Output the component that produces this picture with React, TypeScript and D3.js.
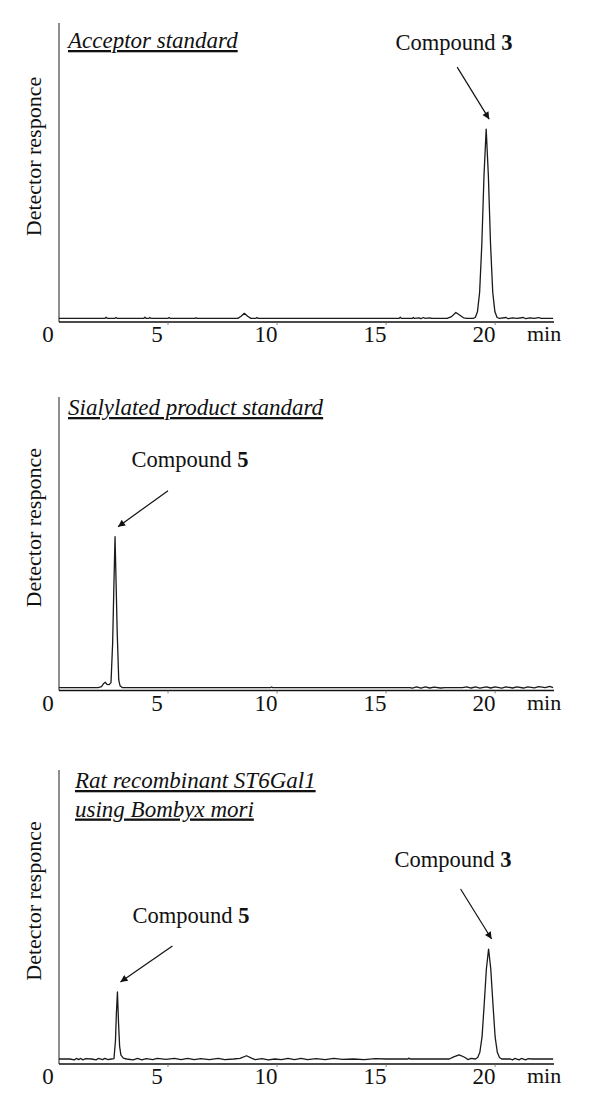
import React from "react";
import * as d3 from "d3";

// ---------- data (time in min, detector response in arbitrary units 0-100) ----------
const xTicks = [0, 5, 10, 15, 20];
const xUnit = "min";
const yLabel = "Detector responce";

const acceptorTrace: [number, number][] = [
  [0.0, 1.2], [2.1, 1.2], [2.16, 1.6], [2.22, 1.2], [2.55, 1.2], [2.61, 1.5], [2.67, 1.2],
  [3.88, 1.2], [3.94, 1.6], [4.0, 1.2], [4.11, 1.2], [4.17, 1.5], [4.23, 1.2],
  [4.99, 1.2], [5.05, 1.5], [5.11, 1.2], [6.22, 1.2], [6.28, 1.4], [6.34, 1.2],
  [8.2, 1.2], [8.35, 1.9], [8.5, 2.9], [8.65, 1.9], [8.8, 1.2], [9.02, 1.2], [9.08, 1.5], [9.14, 1.2],
  [15.6, 1.2], [15.65, 1.6], [15.7, 1.2], [16.2, 1.2], [16.25, 1.5], [16.3, 1.2],
  [16.5, 1.4], [16.6, 1.1], [16.7, 1.5], [16.8, 1.2], [17.0, 1.4], [17.1, 1.2],
  [17.8, 1.2], [18.0, 1.8], [18.2, 3.2], [18.4, 2.2], [18.55, 1.4], [18.7, 1.2],
  [18.99, 1.2], [19.09, 1.5], [19.19, 3.4], [19.29, 10], [19.39, 26], [19.49, 49],
  [19.59, 64.5], [19.69, 49], [19.79, 26], [19.89, 10], [19.99, 3.4], [20.09, 1.5],
  [20.2, 1.2], [20.5, 1.5], [20.6, 1.1], [20.8, 1.4], [21.0, 1.2], [21.3, 1.5],
  [21.4, 1.1], [21.6, 1.4], [21.8, 1.2], [22.0, 1.5], [22.1, 1.2], [22.66, 1.2],
];

const productTrace: [number, number][] = [
  [0.0, 1.0], [1.8, 1.0], [1.95, 1.3], [2.05, 2.4], [2.12, 2.8], [2.2, 2.1], [2.3, 2.0],
  [2.385, 2.7], [2.46, 16.2], [2.52, 36.7], [2.57, 52.4], [2.62, 36], [2.67, 19.6],
  [2.74, 3.6], [2.8, 1.6], [2.9, 1.0], [9.7, 1.0], [9.75, 1.2], [9.8, 1.0],
  [16.1, 1.0], [16.2, 0.8], [16.4, 1.2], [16.6, 0.8], [16.8, 1.2], [17.0, 0.85], [17.2, 1.15],
  [17.5, 0.85], [17.7, 1.0], [18.5, 1.0], [18.7, 1.25], [18.9, 0.85], [19.1, 1.2], [19.3, 0.8],
  [19.6, 1.2], [19.8, 0.85], [20.0, 1.2], [20.3, 0.8], [20.5, 1.25], [20.8, 0.85], [21.0, 1.2],
  [21.3, 0.85], [21.5, 1.25], [21.8, 0.9], [22.0, 1.3], [22.3, 1.0], [22.5, 1.4], [22.66, 1.0],
];

const reactionTrace: [number, number][] = [
  [0.0, 1.7], [0.5, 1.7], [0.7, 1.4], [0.8, 1.9], [0.9, 1.5], [1.0, 1.9], [1.1, 1.4],
  [1.2, 1.8], [1.5, 1.7], [1.7, 1.4], [1.8, 1.9], [2.0, 1.5], [2.1, 1.9], [2.25, 1.5],
  [2.4, 1.7], [2.52, 1.8], [2.59, 8], [2.63, 17], [2.68, 24.5], [2.73, 14], [2.78, 6],
  [2.84, 3], [2.95, 2.0], [3.1, 1.7], [3.4, 1.4], [3.6, 1.9], [3.8, 1.4], [4.0, 1.8],
  [4.3, 1.5], [4.5, 1.9], [4.9, 1.6], [5.3, 1.9], [5.6, 1.5], [5.9, 1.9], [6.2, 1.5],
  [6.5, 1.8], [6.9, 1.5], [7.3, 1.9], [7.6, 1.5], [8.0, 1.7], [8.3, 1.9], [8.6, 2.8],
  [8.85, 1.9], [9.0, 1.5], [9.3, 1.8], [9.6, 1.4], [9.9, 1.7], [10.2, 1.5], [10.5, 1.9],
  [10.8, 1.5], [11.1, 1.9], [11.4, 1.5], [11.8, 1.8], [12.2, 1.5], [12.6, 1.9], [13.0, 1.6],
  [13.5, 1.7], [14.0, 1.5], [14.5, 1.8], [15.0, 1.7], [16.0, 1.7], [16.05, 2.0], [16.1, 1.7],
  [17.9, 1.7], [18.1, 2.4], [18.35, 3.1], [18.6, 2.3], [18.75, 1.5], [18.9, 1.9], [19.1, 1.7],
  [19.2, 2.2], [19.3, 4], [19.4, 9.2], [19.5, 20.4], [19.6, 32.4], [19.7, 39.1], [19.8, 32.4],
  [19.9, 20.4], [20.0, 9.2], [20.1, 4], [20.2, 2.2], [20.3, 1.7], [20.7, 1.7], [20.8, 1.4],
  [20.9, 1.9], [21.1, 1.4], [21.2, 1.9], [21.4, 1.4], [21.5, 1.8], [21.7, 1.7], [22.66, 1.7],
];

// peak annotations: [label, bold number, peak time, peak value]
const acceptorPeaks: [string, string, number, number][] = [["Compound ", "3", 19.59, 64.5]];
const productPeaks: [string, string, number, number][] = [["Compound ", "5", 2.57, 52.4]];
const reactionPeaks: [string, string, number, number][] = [
  ["Compound ", "5", 2.68, 24.5],
  ["Compound ", "3", 19.7, 39.1],
];

const titles = [
  ["Acceptor standard"],
  ["Sialylated product standard"],
  ["Rat recombinant ST6Gal1", "using Bombyx mori"],
];

// ---------- layout ----------
const W = 600;
const H = 1100;
const FONT = "'Liberation Serif', 'Times New Roman', serif";

const panels = [
  { top: 23, axisY: 322, trace: acceptorTrace, peaks: acceptorPeaks, title: titles[0], titleX: 68, titleY: 48,
    ann: [{ dx: -32, dy: -52, lx: 454, ly: 50 }] },
  { top: 397, axisY: 690.5, trace: productTrace, peaks: productPeaks, title: titles[1], titleX: 68, titleY: 415,
    ann: [{ dx: 50, dy: -36, lx: 190, ly: 467 }] },
  { top: 770, axisY: 1064, trace: reactionTrace, peaks: reactionPeaks, title: titles[2], titleX: 75, titleY: 788,
    ann: [{ dx: 52, dy: -36, lx: 191, ly: 923 }, { dx: -31, dy: -50, lx: 453, ly: 867 }] },
];

const x = d3.scaleLinear().domain([0, 22.7]).range([59, 554]);

function Panel({ p, idx }: { p: any; idx: number }) {
  const y = d3.scaleLinear().domain([0, 100]).range([p.axisY, p.top]);
  const line = d3
    .line<[number, number]>()
    .x((d) => x(d[0]))
    .y((d) => y(d[1]))
    .curve(d3.curveLinear);
  const x0 = x(0);
  const xEnd = x(22.7);
  const mid = (p.top + p.axisY) / 2 - 16;
  return (
    <g>
      {/* y axis */}
      <line x1={x0} x2={x0} y1={p.top} y2={p.axisY} stroke="#444" strokeWidth={1.2} />
      {/* x axis */}
      <line x1={x0} x2={xEnd} y1={p.axisY} y2={p.axisY} stroke="#111" strokeWidth={1.6} />
      {xTicks.slice(1).map((t) => (
        <line key={t} x1={x(t)} x2={x(t)} y1={p.axisY} y2={p.axisY + 3} stroke="#666" strokeWidth={0.8} />
      ))}
      {xTicks.map((t) => (
        <text key={"l" + t} x={x(t) - 11} y={p.axisY + 20} textAnchor="middle" fontSize={23} fontFamily={FONT} fill="#111">
          {t}
        </text>
      ))}
      <text x={xEnd - 27} y={p.axisY + 19} fontSize={22} fontFamily={FONT} fill="#111">
        {xUnit}
      </text>
      <text
        transform={`translate(41,${mid}) rotate(-90)`}
        textAnchor="middle"
        fontSize={22}
        fontFamily={FONT}
        fill="#111"
      >
        {yLabel}
      </text>
      {/* title */}
      {p.title.map((s: string, i: number) => (
        <text
          key={s}
          x={p.titleX}
          y={p.titleY + i * 28.5}
          fontSize={23}
          fontStyle="italic"
          fontFamily={FONT}
          fill="#111"
          style={{ textDecoration: "underline" }}
        >
          {s}
        </text>
      ))}
      {/* trace */}
      <path d={line(p.trace) || ""} fill="none" stroke="#1a1a1a" strokeWidth={1.3} strokeLinejoin="round" />
      {/* annotations */}
      {p.peaks.map((pk: [string, string, number, number], i: number) => {
        const tipX = x(pk[2]) + 3;
        const tipY = y(pk[3]) - 10;
        const a = p.ann[i];
        return (
          <g key={i}>
            <line
              x1={tipX + a.dx}
              y1={tipY + a.dy}
              x2={tipX}
              y2={tipY}
              stroke="#111"
              strokeWidth={1.2}
              markerEnd={`url(#arrow${idx})`}
            />
            <text x={a.lx} y={a.ly} textAnchor="middle" fontSize={22.5} fontFamily={FONT} fill="#111">
              {pk[0]}
              <tspan fontWeight="bold">{pk[1]}</tspan>
            </text>
          </g>
        );
      })}
    </g>
  );
}

export default function App() {
  return (
    <svg
      width={W}
      height={H}
      viewBox={`0 0 ${W} ${H}`}
      style={{ position: "absolute", left: 0, top: 0, background: "#fff", display: "block" }}
    >
      <defs>
        {panels.map((_, i) => (
          <marker
            key={i}
            id={`arrow${i}`}
            viewBox="0 0 10 10"
            refX={10}
            refY={5}
            markerWidth={8}
            markerHeight={7}
            markerUnits="userSpaceOnUse"
            orient="auto"
          >
            <path d="M0,0 L10,5 L0,10 z" fill="#111" />
          </marker>
        ))}
      </defs>
      <rect x={0} y={0} width={W} height={H} fill="#fff" />
      {panels.map((p, i) => (
        <Panel key={i} p={p} idx={i} />
      ))}
    </svg>
  );
}
